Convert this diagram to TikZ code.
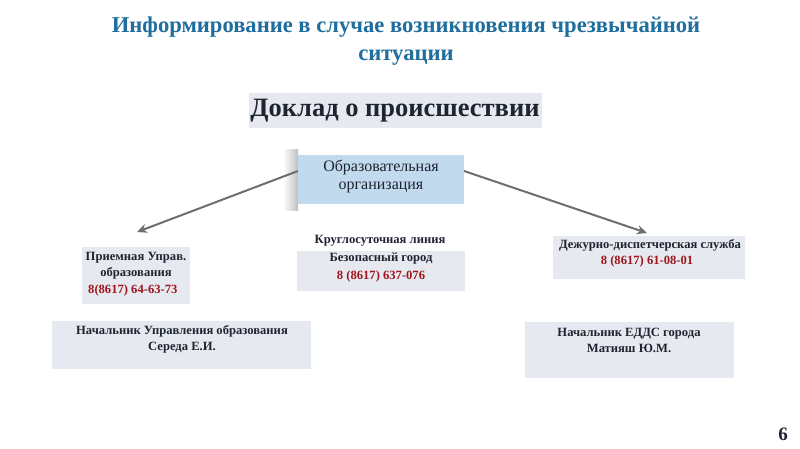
\documentclass[tikz,border=0pt]{standalone}
\usepackage{fontspec}
\setmainfont{Liberation Serif}
\usetikzlibrary{arrows.meta}
\definecolor{titleblue}{HTML}{1F6E9E}
\definecolor{boxgrey}{HTML}{E6EAF0}
\definecolor{topblue}{HTML}{C2DAEE}
\definecolor{txtdark}{HTML}{1E2430}
\definecolor{phonered}{HTML}{A0141C}
\definecolor{arrowgrey}{HTML}{6E6E6E}
\tikzset{
  box/.style={fill=boxgrey, draw=none, inner sep=0pt},
  boxtext/.style={font=\bfseries\fontsize{12.6}{16}\selectfont, text=txtdark, align=center, inner sep=0pt},
  phone/.style={font=\bfseries\fontsize{12.6}{16}\selectfont, text=phonered, inner sep=0pt},
  link/.style={draw=arrowgrey, line width=2pt, -{Stealth[length=10pt,width=9pt]}}
}
\begin{document}
\begin{tikzpicture}[x=1pt,y=-1pt]
\useasboundingbox (0,0) rectangle (800,449);
% titles
\node[font=\bfseries\fontsize{22.6}{28}\selectfont, text=titleblue, align=center] (title) at (406,41) {Информирование в случае возникновения чрезвычайной\\ситуации};
\fill[boxgrey] (249,93) rectangle (542,128);
\node[font=\bfseries\fontsize{26.5}{30}\selectfont, text=txtdark, inner sep=0pt] (report) at (395,111) {Доклад о происшествии};
% top box with shadow
\shade[left color=white, right color=black!25] (283,150) rectangle (298,210);
\fill[topblue] (298,155) rectangle (464,204);
\node[font=\fontsize{16}{18}\selectfont, text=txtdark, align=center, inner sep=0pt] (org) at (381,176) {Образовательная\\организация};
\coordinate (orgL) at (298,171);
\coordinate (orgR) at (464,171);
% left box
\fill[boxgrey] (82,247) rectangle (190,304);
\node[boxtext] (recep) at (136,266) {Приемная Управ.\\образования};
\node[phone, anchor=west] (recepph) at (88,290) {8(8617) 64-63-73};
\coordinate (leftTip) at (137,232);
% center
\node[boxtext] (round) at (380,241) {Круглосуточная линия};
\fill[boxgrey] (297,251) rectangle (465,291);
\node[boxtext] (safe) at (381,259) {Безопасный город};
\node[phone] (safeph) at (381,276) {8 (8617) 637-076};
% right box
\fill[boxgrey] (553,236) rectangle (745,279);
\node[boxtext] (edds) at (650,245) {Дежурно-диспетчерская служба};
\node[phone] (eddsph) at (647,261) {8 (8617) 61-08-01};
\coordinate (rightTip) at (647,233);
% bottom left
\fill[boxgrey] (52,321) rectangle (311,369);
\node[boxtext] (chief1) at (182,339) {Начальник Управления образования\\Середа Е.И.};
% bottom right
\fill[boxgrey] (525,322) rectangle (734,378);
\node[boxtext] (chief2) at (629,340) {Начальник ЕДДС города\\Матияш Ю.М.};
% arrows
\draw[link] (orgL) -- (leftTip);
\draw[link] (orgR) -- (rightTip);
% page number
\node[font=\bfseries\fontsize{19}{21}\selectfont, text=txtdark, inner sep=0pt] (page) at (783,434) {6};
\end{tikzpicture}
\end{document}
